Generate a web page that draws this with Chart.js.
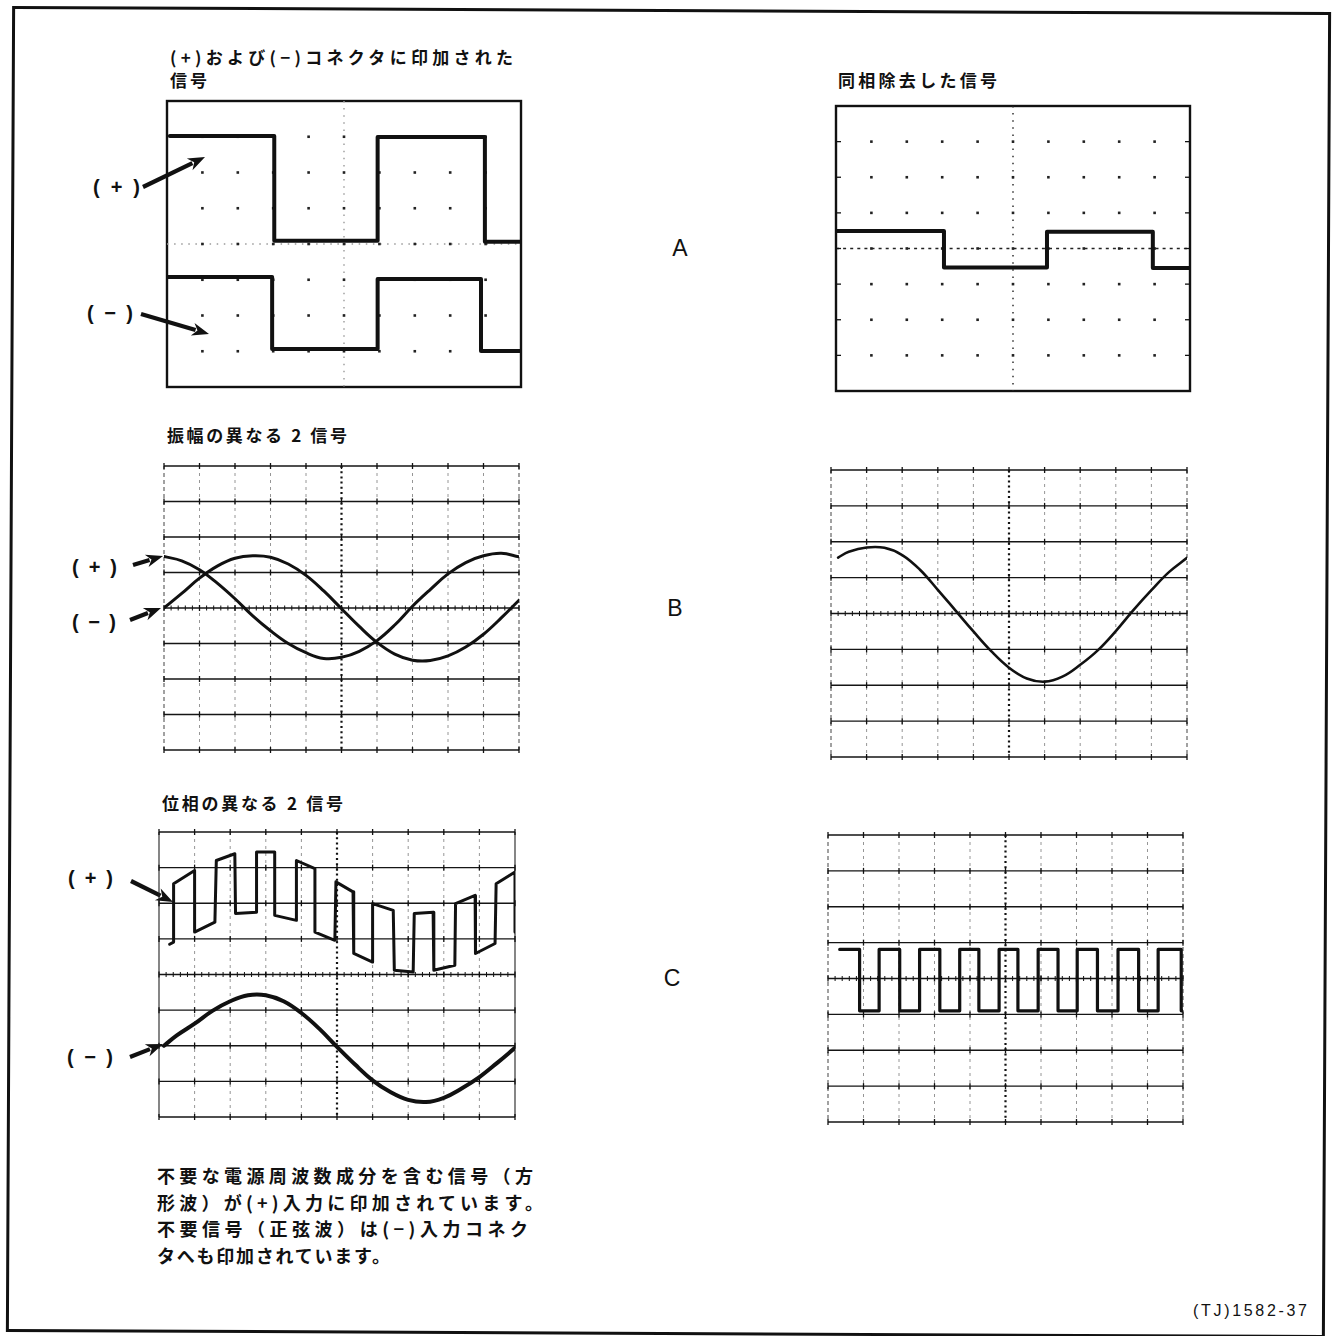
<!DOCTYPE html>
<html lang="ja">
<head>
<meta charset="utf-8">
<title>同相除去した信号</title>
<script src="https://cdn.jsdelivr.net/npm/chart.js@4.4.1/dist/chart.umd.min.js"></script>
<style>
html,body{margin:0;padding:0;background:#fff;}
body{width:1335px;height:1336px;position:relative;overflow:hidden;color:#111;
  font-family:"Noto Sans CJK JP","Noto Sans",sans-serif;}
.frame{position:absolute;left:9px;top:9px;width:1319px;height:1326px;border:3px solid #111;
  box-sizing:border-box;transform:rotate(0.27deg);}
.jp{position:absolute;white-space:nowrap;font-weight:700;font-size:17px;line-height:20px;letter-spacing:0;}
.jpb{position:absolute;white-space:nowrap;font-weight:700;font-size:18px;line-height:22px;letter-spacing:0;}
.pm{position:absolute;white-space:nowrap;font-family:"Liberation Sans",Arial,sans-serif;font-weight:700;font-size:20px;line-height:22px;}
.big{position:absolute;font-family:"Liberation Sans",Arial,sans-serif;font-size:23px;transform:translate(-50%,-50%);}
.code{position:absolute;white-space:nowrap;font-family:"Liberation Sans",Arial,sans-serif;font-size:16px;line-height:18px;}
canvas{position:absolute;}
svg{position:absolute;left:0;top:0;}
</style>
</head>
<body>
<div class="frame"></div>
<svg id="arrows" width="1335" height="1336"></svg>
<script>
window.addEventListener("load",function(){

    //__________ 目盛り（10 x 8 div）__________//
    const xDivs = [0,1,2,3,4,5,6,7,8,9,10];
    const yDivs = [-4,-3,-2,-1,0,1,2,3,4];

    //__________ A : 方形波 __________//
    const aPlusX  = [0.08,3.03,3.03,5.95,5.95,8.98,8.98,10];
    const aPlusY  = [3.02,3.02,0.09,0.09,2.99,2.99,0.06,0.06];
    const aMinusX = [0,2.97,2.97,5.95,5.95,8.87,8.87,10];
    const aMinusY = [-0.92,-0.92,-2.94,-2.94,-0.98,-0.98,-2.99,-2.99];
    const aOutX   = [0,3.05,3.05,5.96,5.96,8.95,8.95,10];
    const aOutY   = [0.49,0.49,-0.53,-0.53,0.47,0.47,-0.55,-0.55];

    //__________ B : 正弦波（振幅の異なる2信号）__________//
    const bX      = [0,0.5,1,1.5,2,2.5,3,3.5,4,4.5,5,5.5,6,6.5,7,7.5,8,8.5,9,9.5,10];
    const bPlusY  = [1.45,1.33,1.08,0.70,0.26,-0.22,-0.64,-1.00,-1.26,-1.42,-1.39,-1.22,-0.92,-0.48,0.05,0.52,0.96,1.28,1.47,1.54,1.44];
    const bMinusY = [0,0.41,0.84,1.18,1.40,1.47,1.43,1.24,0.92,0.48,-0.02,-0.52,-0.97,-1.30,-1.47,-1.48,-1.35,-1.10,-0.74,-0.28,0.22];
    const bOutX   = [0.2,0.5,1,1.5,2,2.5,3,3.5,4,4.5,5,5.5,6,6.5,7,7.5,8,8.5,9,9.5,10];
    const bOutY   = [1.56,1.72,1.84,1.83,1.63,1.22,0.66,0.08,-0.50,-1.05,-1.51,-1.81,-1.90,-1.76,-1.43,-1.02,-0.49,0.10,0.65,1.16,1.55];

    //__________ C : 電源周波数成分を含む信号 __________//
    const cPlusX  = [0.30,0.41,0.41,1.00,1.00,1.57,1.61,2.13,2.15,2.74,2.74,3.25,3.25,3.86,3.86,4.38,4.38,4.94,4.97,5.45,5.47,6.00,6.00,6.58,6.61,7.14,7.17,7.70,7.72,8.31,8.33,8.88,8.89,9.44,9.47,10.0,10.0];
    const cPlusY  = [0.85,0.91,2.55,2.92,1.19,1.47,3.20,3.39,1.71,1.75,3.44,3.44,1.66,1.52,3.20,2.97,1.19,0.96,2.60,2.32,0.59,0.35,1.99,1.80,0.12,0.07,1.71,1.75,0.12,0.26,1.99,2.22,0.59,0.87,2.55,2.88,1.19];
    const cMinusX = [0.14,0.5,1,1.5,2,2.5,3,3.5,4,4.5,5,5.5,6,6.5,7,7.5,8,8.5,9,9.5,10];
    const cMinusY = [-2.0,-1.71,-1.38,-1.02,-0.75,-0.58,-0.58,-0.75,-1.08,-1.52,-2.03,-2.52,-2.97,-3.30,-3.52,-3.58,-3.46,-3.20,-2.88,-2.48,-2.06];
    const cOutX   = [0.33,0.89,0.89,1.44,1.44,2.02,2.02,2.58,2.58,3.15,3.15,3.71,3.71,4.25,4.25,4.82,4.82,5.35,5.35,5.92,5.92,6.48,6.48,7.02,7.02,7.59,7.59,8.17,8.17,8.75,8.75,9.30,9.30,9.95,9.95,10.0];
    const cOutY   = [0.81,0.81,-0.9,-0.9,0.81,0.81,-0.9,-0.9,0.81,0.81,-0.9,-0.9,0.81,0.81,-0.9,-0.9,0.81,0.81,-0.9,-0.9,0.81,0.81,-0.9,-0.9,0.81,0.81,-0.9,-0.9,0.81,0.81,-0.9,-0.9,0.81,0.81,-0.9,-0.9];


/*__________ 目盛り描画プラグイン __________*/
    const graticule = {
        id: 'graticule',
        beforeDatasetsDraw(chart, args, o){
            const c = chart.ctx, sx = chart.scales.x, sy = chart.scales.y;
            const X = v => sx.getPixelForValue(v), Y = v => sy.getPixelForValue(v);
            const L = X(xDivs[0]), R = X(xDivs[xDivs.length-1]);
            const T = Y(yDivs[yDivs.length-1]), B = Y(yDivs[0]);
            function line(x1,y1,x2,y2,w,col,dash){
                c.beginPath();
                c.setLineDash(dash || []);
                c.lineWidth = w;
                c.strokeStyle = col;
                c.moveTo(x1,y1);
                c.lineTo(x2,y2);
                c.stroke();
            }
            c.save();
            if(o.kind === 'dots'){
                //枠
                c.setLineDash([]);
                c.lineWidth = 2.4;
                c.strokeStyle = '#111';
                c.strokeRect(L,T,R-L,B-T);
                //中心線
                line(L,Y(0),R,Y(0),1.4,o.midColor,o.hDash);
                line(X(5),T,X(5),B,1.4,o.midColor,o.vDash);
                //交点の点
                c.fillStyle = '#222';
                xDivs.slice(1,-1).forEach(i => {
                    yDivs.slice(1,-1).forEach(j => c.fillRect(X(i)-1.3,Y(j)-1.3,2.6,2.6));
                });
                if(o.edgeTicks){
                    yDivs.slice(1,-1).forEach(j => {
                        line(L,Y(j),L+5,Y(j),1.3,'#111');
                        line(R-5,Y(j),R,Y(j),1.3,'#111');
                    });
                }
            }else{
                xDivs.forEach(i => {
                    if(i === 5) line(X(i),T,X(i),B,2.2,'#111',[2,3.2]);
                    else if(i === xDivs[0] || i === xDivs[xDivs.length-1]) line(X(i),T,X(i),B,1.1,o.edgeColor,o.edgeDash);
                    else line(X(i),T,X(i),B,0.9,'#8a8a8a',[3,4]);
                });
                yDivs.forEach(j => line(L,Y(j),R,Y(j),1.4,'#151515'));
                xDivs.forEach(i => yDivs.forEach(j => line(X(i),Y(j)-3,X(i),Y(j)+3,1.3,'#111')));
                for(let k=1;k<50;k++){
                    line(X(k/5),Y(0)-2.5,X(k/5),Y(0)+2.5,1,'#111');
                }
            }
            c.restore();
        }
    };

    function pts(xs,ys){
        return xs.map((x,i) => ({x:x, y:ys[i]}));
    }

    function trace(xs,ys,w,tension){
        return {
            data: pts(xs,ys),
            borderColor: '#111',
            borderWidth: w,
            pointRadius: 0,
            tension: tension,
            fill: false,
            borderJoinStyle: 'round',
            borderCapStyle: 'round'
        };
    }

    //______ 画面(スコープ)を作る ______//
    const pad = 6;
    function scope(box, sets, grid){
        const cv = document.createElement('canvas');
        const w = box[2]-box[0] + pad*2, h = box[3]-box[1] + pad*2;
        cv.width = w; cv.height = h;
        cv.style.left = (box[0]-pad)+'px';
        cv.style.top = (box[1]-pad)+'px';
        cv.style.width = w+'px';
        cv.style.height = h+'px';
        document.body.appendChild(cv);
        return new Chart(cv,{
            type: 'line',
            data: { datasets: sets },
            options: {
                responsive: false,
                animation: false,
                events: [],
                layout: { padding: pad },
                plugins: { legend:{display:false}, tooltip:{enabled:false}, graticule: grid },
                scales: {
                    x: { type:'linear', min:xDivs[0], max:xDivs[xDivs.length-1], display:false },
                    y: { type:'linear', min:yDivs[0], max:yDivs[yDivs.length-1], display:false }
                }
            },
            plugins: [graticule]
        });
    }

    const dashEdge = {kind:'lines', edgeColor:'#555', edgeDash:[4,3]};
    scope([167,101,521,387], [trace(aPlusX,aPlusY,4,0), trace(aMinusX,aMinusY,4,0)],
          {kind:'dots', midColor:'#9a9a9a', hDash:[1.5,5.6], vDash:[1.5,5.6]});
    scope([836,106,1190,391], [trace(aOutX,aOutY,4,0)],
          {kind:'dots', midColor:'#222', hDash:[3,4.1], vDash:[1.5,5.6], edgeTicks:true});
    scope([164,466,519,750], [trace(bX,bPlusY,3,0.4), trace(bX,bMinusY,3,0.4)], dashEdge);
    scope([831,470,1187,757], [trace(bOutX,bOutY,2.6,0.4)], dashEdge);
    scope([159,832,515,1117], [trace(cPlusX,cPlusY,3,0), trace(cMinusX,cMinusY,4,0.4)],
          {kind:'lines', edgeColor:'#222', edgeDash:[]});
    scope([828,835,1183,1122], [trace(cOutX,cOutY,3.2,0)], dashEdge);


/*__________ 文字 __________*/
    function place(txt, cls, left, cy, width){
        const el = document.createElement('div');
        el.className = cls;
        el.textContent = txt;
        el.style.left = left+'px';
        document.body.appendChild(el);
        el.style.top = (cy - el.offsetHeight/2)+'px';
        if(width){
            const n = [...txt].length;
            const w0 = el.getBoundingClientRect().width;
            el.style.letterSpacing = ((width - w0)/(n-1))+'px';
        }
        return el;
    }

    place('(+)および(−)コネクタに印加された','jp',170,57,343);
    place('信号','jp',170,80,37);
    place('同相除去した信号','jp',838,80,159);
    place('振幅の異なる 2 信号','jp',167,435,180);
    place('位相の異なる 2 信号','jp',162,803,181);

    place('不要な電源周波数成分を含む信号（方','jpb',157,1175,376);
    place('形波）が(+)入力に印加されています。','jpb',157,1202,386);
    place('不要信号（正弦波）は(−)入力コネク','jpb',157,1228,371);
    place('タへも印加されています。','jpb',157,1255,233);
    place('(TJ)1582-37','code',1193,1311,114);

    place('(+)','pm',93,187,47);
    place('(−)','pm',87,313,46);
    place('(+)','pm',72,567,45);
    place('(−)','pm',72,622,44);
    place('(+)','pm',68,878,45);
    place('(−)','pm',67,1057,46);

    [['A',680,248],['B',675,608],['C',672,978]].forEach(function(p){
        const el = document.createElement('div');
        el.className = 'big';
        el.textContent = p[0];
        el.style.left = p[1]+'px';
        el.style.top = p[2]+'px';
        document.body.appendChild(el);
    });


/*__________ 矢印 __________*/
    const svg = document.getElementById('arrows');
    const NS = 'http://www.w3.org/2000/svg';
    const arrowList = [
        [143,187,205,157],
        [141,314,209,334],
        [133,565,163,556],
        [130,620,161,608],
        [131,881,173,902],
        [130,1057,163,1044]
    ];
    arrowList.forEach(function(a){
        const dx = a[2]-a[0], dy = a[3]-a[1];
        const len = Math.sqrt(dx*dx+dy*dy), ux = dx/len, uy = dy/len;
        const hl = 17, hw = 6.5;
        const bx = a[2]-ux*hl, by = a[3]-uy*hl;
        const ln = document.createElementNS(NS,'line');
        ln.setAttribute('x1',a[0]); ln.setAttribute('y1',a[1]);
        ln.setAttribute('x2',bx+ux*3); ln.setAttribute('y2',by+uy*3);
        ln.setAttribute('stroke','#111'); ln.setAttribute('stroke-width','4.2');
        svg.appendChild(ln);
        const pg = document.createElementNS(NS,'polygon');
        pg.setAttribute('points',
            a[2]+','+a[3]+' '+(bx-uy*hw)+','+(by+ux*hw)+' '+(bx+ux*5)+','+(by+uy*5)+' '+(bx+uy*hw)+','+(by-ux*hw));
        pg.setAttribute('fill','#111');
        svg.appendChild(pg);
    });
});
</script>
</body>
</html>
